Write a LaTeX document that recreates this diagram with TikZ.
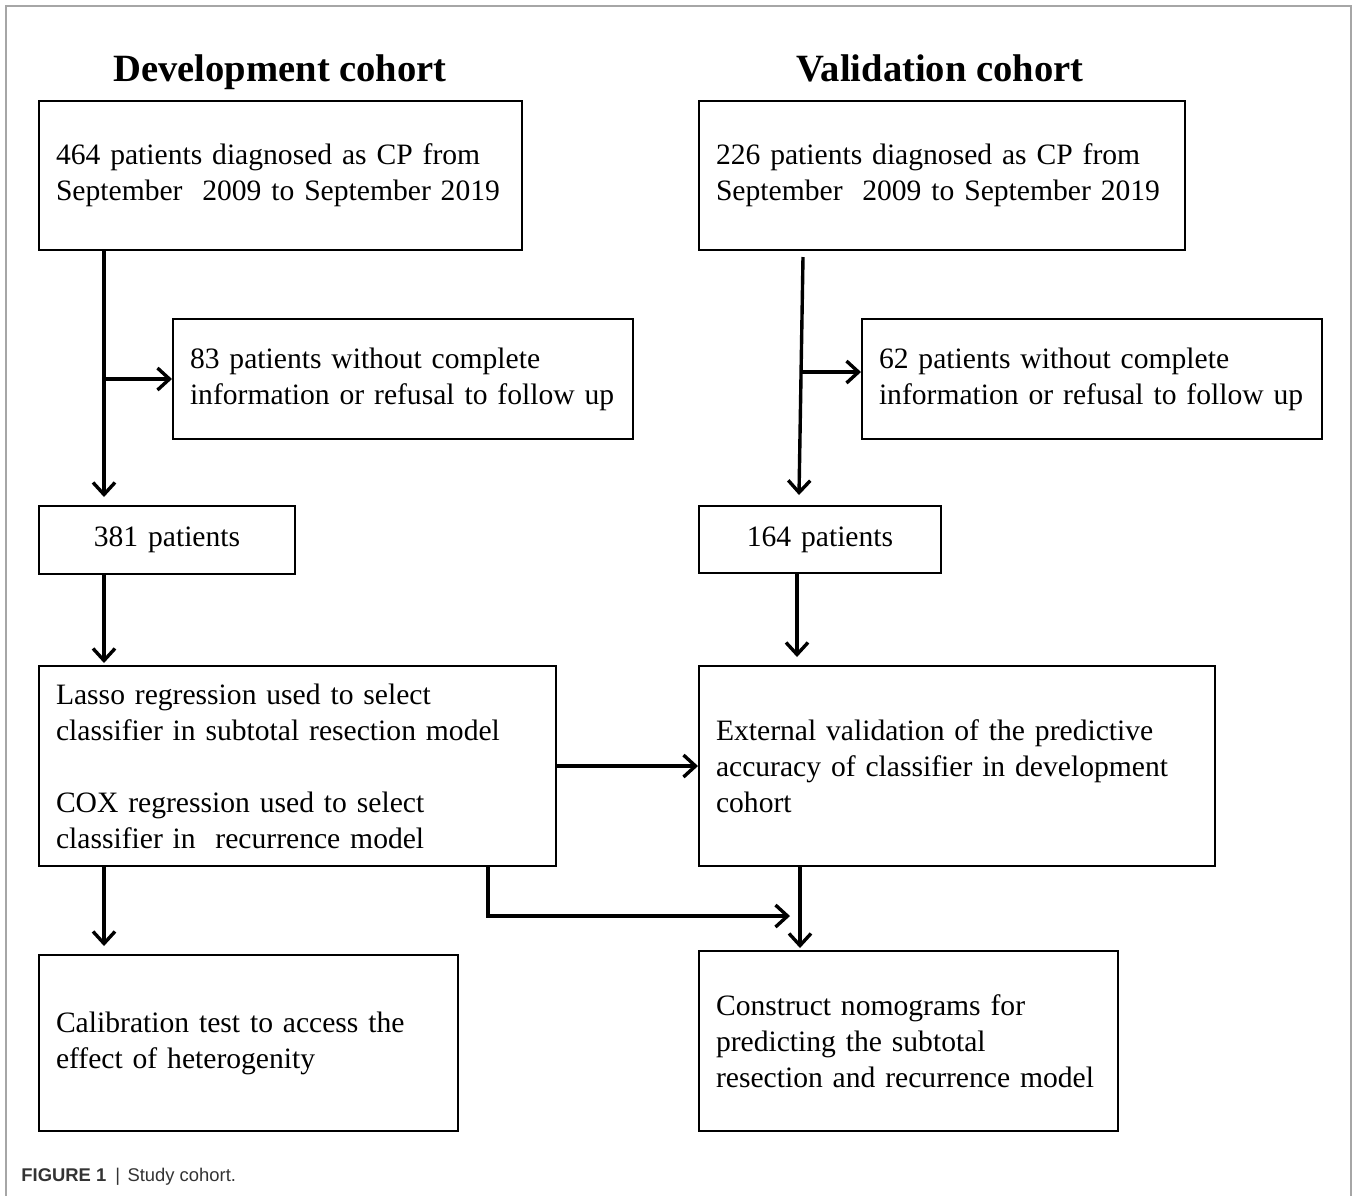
\documentclass[tikz,border=0pt]{standalone}
\usepackage{fontspec}
\setmainfont{Liberation Serif}
\newfontfamily\capfont{Liberation Sans}
\usetikzlibrary{arrows.meta,calc}
\newcommand\boxline[1]{\mbox{#1}}
\begin{document}
\begin{tikzpicture}[x=0.5pt,y=-0.5pt,
  box/.style={draw, line width=1pt, anchor=north west, inner xsep=8.5pt, inner ysep=0pt, align=left, font=\fontsize{14.8}{18}\selectfont},
  arr/.style={line width=1.7pt, -{Straight Barb[length=6pt,width=11pt]}},
  ttl/.style={font=\fontsize{19.3}{22}\selectfont\bfseries, anchor=base, inner sep=0pt}]

\useasboundingbox (0,0) rectangle (1354,1196);
\draw[line width=1pt, color=black!35] (6,1196) -- (6,6) -- (1351,6) -- (1351,1196);

\node[ttl] (t1) at (280,81) {Development cohort};
\node[ttl] (t2) at (940,81) {Validation cohort};

\node[box, text width=224.5pt, minimum height=74.5pt] (d1) at (38,100)
  {\boxline{464 patients diagnosed as CP from}\\\boxline{September\ \ 2009 to September 2019}};
\node[box, text width=226pt, minimum height=74.5pt] (v1) at (698,100)
  {\boxline{226 patients diagnosed as CP from}\\\boxline{September\ \ 2009 to September 2019}};
\node[box, text width=213pt, minimum height=60pt] (d2) at (172,318)
  {\boxline{83 patients without complete}\\\boxline{information or refusal to follow up}};
\node[box, text width=213pt, minimum height=60pt] (v2) at (861,318)
  {\boxline{62 patients without complete}\\\boxline{information or refusal to follow up}};
\node[box, align=center, text width=111pt, minimum height=34pt] (d3) at (38,505) {381 patients};
\node[box, align=center, text width=104pt, minimum height=33.5pt] (v3) at (698,505) {164 patients};
\node[box, text width=241.5pt, minimum height=100pt] (d4) at (38,665)
  {\boxline{Lasso regression used to select}\\\boxline{classifier in subtotal resection model}\\[18pt]\boxline{COX regression used to select}\\\boxline{classifier in\ \ recurrence model}};
\node[box, text width=241pt, minimum height=100pt] (v4) at (698,665)
  {\boxline{External validation of the predictive}\\\boxline{accuracy of classifier in development}\\\boxline{cohort}};
\node[box, text width=192.5pt, minimum height=88pt] (d5) at (38,954)
  {\boxline{Calibration test to access the}\\\boxline{effect of heterogenity}};
\node[box, text width=192.5pt, minimum height=90pt] (v5) at (698,950)
  {\boxline{Construct nomograms for}\\\boxline{predicting the subtotal}\\\boxline{resection and recurrence model}};

\node[anchor=base west, font=\capfont\fontsize{9.2}{11}\selectfont, text=black!80, inner sep=0pt] (cap) at (21,1181)
  {\textbf{FIGURE 1}\hspace{0.5em}|\hspace{0.4em}Study cohort.};

% development column
\coordinate (a1) at ($(d1.south west)+(66,0)$);
\draw[arr] (a1) -- ($(d3.north west)+(66,-8)$);
\draw[arr] (d2.west -| a1) -- (d2.west);
\draw[arr] ($(d3.south west)+(66,0)$) -- ($(d4.north west)+(66,-2)$);
\draw[arr] ($(d4.south west)+(66,0)$) -- ($(d5.north west)+(66,-8)$);

% validation column
\coordinate (b1) at ($(v1.south west)+(105,6)$);
\coordinate (b2) at ($(v3.north west)+(101,-10)$);
\draw[arr] (b1) -- (b2);
\draw[arr] ($(v2.west)+(-59,-7)$) -- ($(v2.west)+(0,-7)$);
\draw[arr] ($(v3.south west)+(99,0)$) -- ($(v4.north west)+(99,-8)$);
\draw[arr] ($(v4.south west)+(102,0)$) -- ($(v5.north west)+(102,-2)$);

% cross connectors
\draw[arr] (d4.east) -- (v4.west);
\draw[arr] ($(d4.south west)+(450,0)$) |- ($(v5.north west)+(92,-34)$);
\end{tikzpicture}
\end{document}
